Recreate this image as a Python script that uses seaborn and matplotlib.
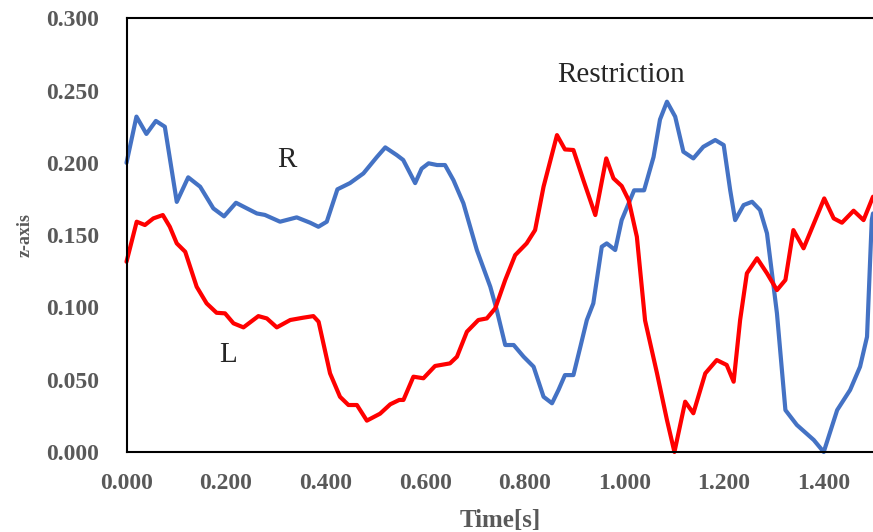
import matplotlib
matplotlib.use('Agg')
import matplotlib.pyplot as plt
import pandas as pd
import seaborn as sns

# Values
r_time = [0.000, 0.020, 0.040, 0.059, 0.077, 0.101, 0.124, 0.148, 0.1745, 0.196,
          0.220, 0.242, 0.262, 0.278, 0.3085, 0.342, 0.369, 0.3856, 0.4024, 0.4238,
          0.449, 0.476, 0.503, 0.520, 0.543, 0.556, 0.570, 0.580, 0.593, 0.607,
          0.624, 0.640, 0.657, 0.677, 0.704, 0.731, 0.744, 0.761, 0.778, 0.798,
          0.818, 0.838, 0.855, 0.868, 0.881, 0.898, 0.912, 0.925, 0.938, 0.955,
          0.965, 0.982, 0.995, 1.020, 1.040, 1.059, 1.072, 1.086, 1.1025, 1.119,
          1.139, 1.159, 1.183, 1.200, 1.213, 1.223, 1.240, 1.257, 1.273, 1.287,
          1.307, 1.324, 1.347, 1.381, 1.401, 1.428, 1.454, 1.474, 1.488, 1.4975,
          1.500]
r_z = [0.200, 0.232, 0.220, 0.229, 0.225, 0.173, 0.190, 0.1835, 0.1685, 0.163,
       0.1724, 0.1685, 0.165, 0.164, 0.1593, 0.1623, 0.1586, 0.1558, 0.1593, 0.1817,
       0.186, 0.1927, 0.204, 0.2107, 0.2054, 0.202, 0.1927, 0.186, 0.196, 0.1997,
       0.1985, 0.1985, 0.188, 0.172, 0.1397, 0.1143, 0.0982, 0.074, 0.074, 0.0659,
       0.059, 0.0382, 0.0337, 0.0429, 0.0532, 0.0532, 0.0728, 0.0913, 0.1028, 0.142,
       0.1443, 0.1397, 0.1604, 0.181, 0.181, 0.204, 0.230, 0.2423, 0.232, 0.2077,
       0.2031, 0.2111, 0.2158, 0.2123, 0.1812, 0.1604, 0.1708, 0.1731, 0.1674, 0.1512,
       0.0959, 0.029, 0.0187, 0.0083, 0.000, 0.029, 0.0429, 0.059, 0.0797, 0.1604,
       0.165]

l_time = [0.000, 0.0205, 0.037, 0.054, 0.073, 0.087, 0.101, 0.118, 0.141, 0.161,
          0.181, 0.198, 0.215, 0.235, 0.265, 0.282, 0.302, 0.329, 0.355, 0.3755,
          0.386, 0.409, 0.429, 0.446, 0.463, 0.483, 0.5095, 0.530, 0.548, 0.5565,
          0.5765, 0.5966, 0.620, 0.650, 0.664, 0.684, 0.707, 0.724, 0.741, 0.761,
          0.781, 0.804, 0.821, 0.838, 0.865, 0.881, 0.898, 0.918, 0.942, 0.964,
          0.9785, 0.995, 1.009, 1.0255, 1.042, 1.066, 1.086, 1.101, 1.1226, 1.139,
          1.163, 1.186, 1.206, 1.220, 1.233, 1.2466, 1.267, 1.287, 1.307, 1.324,
          1.340, 1.3605, 1.384, 1.402, 1.421, 1.4376, 1.461, 1.481, 1.500]
l_z = [0.1316, 0.1593, 0.157, 0.1616, 0.1639, 0.1558, 0.1443, 0.1385, 0.1143, 0.1028,
       0.0963, 0.0959, 0.089, 0.0862, 0.094, 0.0924, 0.0862, 0.0913, 0.0929, 0.094,
       0.0901, 0.0544, 0.0382, 0.0325, 0.0325, 0.0217, 0.0265, 0.033, 0.036, 0.036,
       0.0521, 0.051, 0.0595, 0.0613, 0.0659, 0.0832, 0.0913, 0.0924, 0.0994, 0.119,
       0.1362, 0.1443, 0.1535, 0.1835, 0.2192, 0.2093, 0.2089, 0.1881, 0.1639, 0.2031,
       0.1893, 0.184, 0.1743, 0.1489, 0.091, 0.0544, 0.0221, 0.000, 0.0348, 0.0268,
       0.0544, 0.0636, 0.0602, 0.0486, 0.0913, 0.1236, 0.134, 0.1236, 0.112, 0.119,
       0.1535, 0.1409, 0.1604, 0.1754, 0.1616, 0.1586, 0.1669, 0.1604, 0.1766]

x_ticks = [0.0, 0.2, 0.4, 0.6, 0.8, 1.0, 1.2, 1.4]
y_ticks = [0.0, 0.05, 0.10, 0.15, 0.20, 0.25, 0.30]

df_r = pd.DataFrame({'time': r_time, 'z': r_z})
df_l = pd.DataFrame({'time': l_time, 'z': l_z})

sns.set_style('white')
plt.rcParams['font.family'] = ['Liberation Serif', 'DejaVu Serif']

fig = plt.figure(figsize=(8.73, 5.32), dpi=100)
ax = fig.add_axes([126.5 / 873, 80 / 532, 1 - 126.5 / 873, (452 - 18.3) / 532])

sns.lineplot(data=df_r, x='time', y='z', color='#4472C4', linewidth=3,
             solid_joinstyle='round', solid_capstyle='round', clip_on=False, ax=ax)
sns.lineplot(data=df_l, x='time', y='z', color='#FF0000', linewidth=3,
             solid_joinstyle='round', solid_capstyle='round', clip_on=False, ax=ax)

ax.set_xlim(0, 1.5)
ax.set_ylim(0, 0.3)
ax.set_xticks(x_ticks)
ax.set_xticklabels([f'{t:.3f}' for t in x_ticks])
ax.set_yticks(y_ticks)
ax.set_yticklabels([f'{t:.3f}' for t in y_ticks])

grey = '#595959'
ax.tick_params(axis='both', direction='in', length=5, width=1.2, color='black',
               labelsize=17, labelcolor=grey)
ax.tick_params(axis='y', pad=19.5)
ax.tick_params(axis='x', pad=15)
for lab in ax.get_xticklabels() + ax.get_yticklabels():
    lab.set_fontweight('bold')

ax.spines['right'].set_visible(False)
for s in ['left', 'bottom', 'top']:
    ax.spines[s].set_color('black')
    ax.spines[s].set_linewidth(1.5)

ax.set_xlabel('Time[s]', fontsize=18, fontweight='bold', color=grey, labelpad=11)
ax.set_ylabel('z-axis', fontsize=13, fontweight='bold', color=grey, labelpad=9)

ax.text(0.3226, 0.2019, 'R', fontsize=21, ha='center', va='center')
ax.text(0.204, 0.067, 'L', fontsize=21, ha='center', va='center')
ax.text(0.994, 0.2607, 'Restriction', fontsize=21, ha='center', va='center')

fig.savefig('out.png', dpi=100)
